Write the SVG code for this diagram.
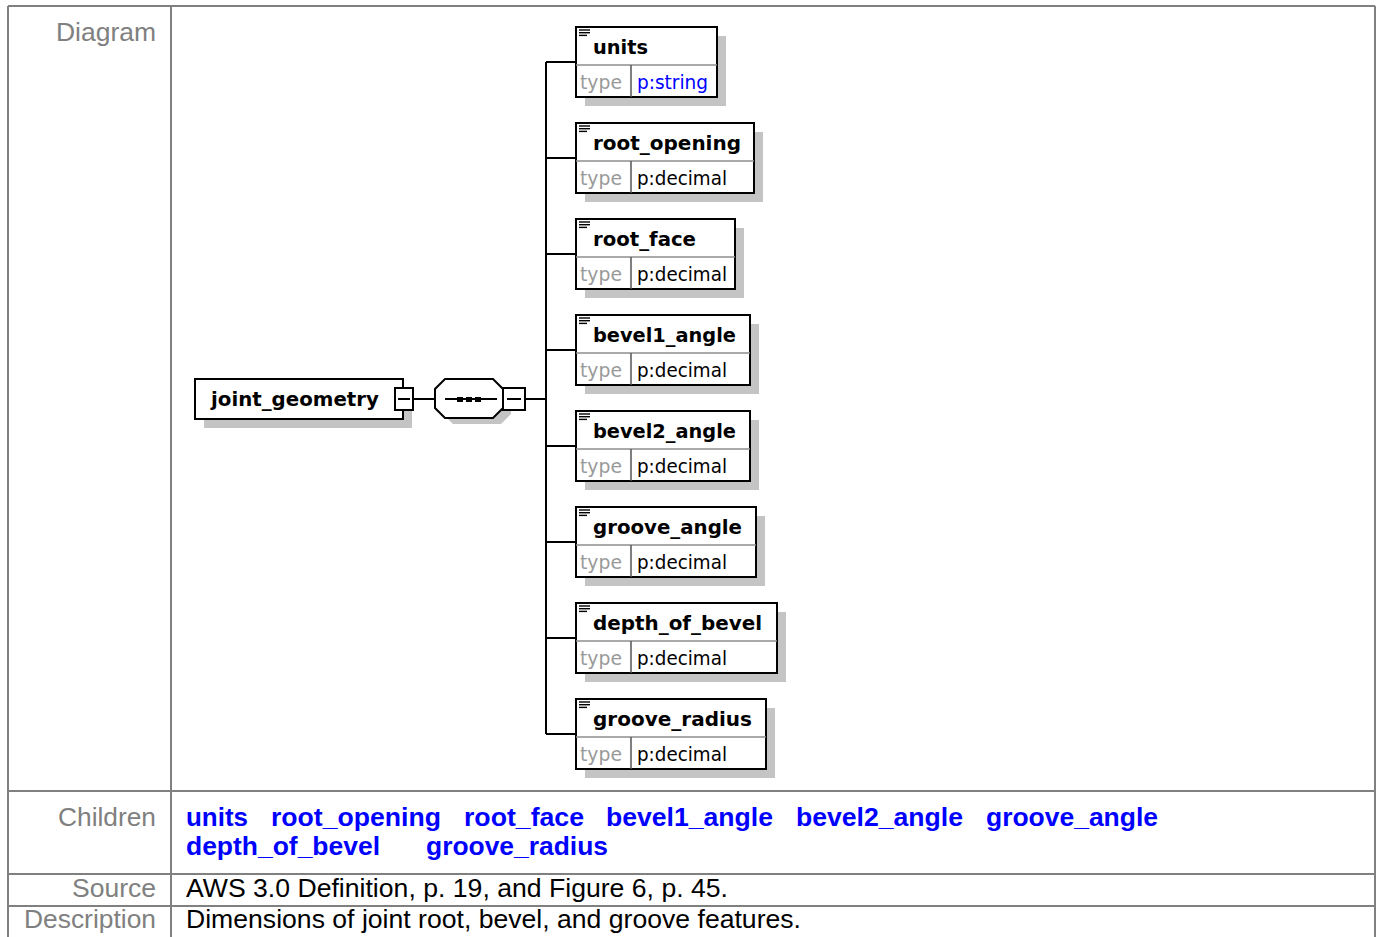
<svg xmlns="http://www.w3.org/2000/svg" width="1379" height="937" viewBox="0 0 1379 937">
<style>
.grid{stroke:#808080;stroke-width:2;fill:none}
.lbl{font-family:"Liberation Sans",Arial,sans-serif;font-size:26px;fill:#808080;text-anchor:end}
.val{font-family:"Liberation Sans",Arial,sans-serif;font-size:26px;fill:#000}
.kid{font-family:"Liberation Sans",Arial,sans-serif;font-size:26px;font-weight:bold;fill:#0000ff}
.shadow{fill:#c4c4c4;stroke:none}
.box{fill:#fff;stroke:#000;stroke-width:2}
.div{stroke:#8c8c8c;stroke-width:1.5}
.vdiv{stroke:#555;stroke-width:1.5}
.name{font-family:"DejaVu Sans",Verdana,sans-serif;font-size:20px;font-weight:bold;fill:#000}
.tl{font-family:"DejaVu Sans",Verdana,sans-serif;font-size:19px;fill:#9a9a9a}
.tv{font-family:"DejaVu Sans",Verdana,sans-serif;font-size:19px;fill:#000}
.tvl{font-family:"DejaVu Sans",Verdana,sans-serif;font-size:19px;fill:#0000ff}
.conn{stroke:#000;stroke-width:2;fill:none}
.icon{stroke:#000;stroke-width:1.4}
</style>
<defs>
<g id="ico"><line class="icon" x1="579" y1="30" x2="590" y2="30"/><line class="icon" x1="579" y1="32.7" x2="590" y2="32.7"/><line class="icon" x1="579" y1="35.4" x2="587" y2="35.4"/></g>
</defs>
<rect width="1379" height="937" fill="#fff"/>
<g id="table">
<line class="grid" x1="8" y1="6" x2="1375" y2="6"/>
<line class="grid" x1="8" y1="6" x2="8" y2="937"/>
<line class="grid" x1="1375" y1="6" x2="1375" y2="937"/>
<line class="grid" x1="171" y1="6" x2="171" y2="937"/>
<line class="grid" x1="8" y1="791" x2="1375" y2="791"/>
<line class="grid" x1="8" y1="874" x2="1375" y2="874"/>
<line class="grid" x1="8" y1="906" x2="1375" y2="906"/>
<text class="lbl" x="156" y="41" textLength="100" lengthAdjust="spacingAndGlyphs">Diagram</text>
<text class="lbl" x="156" y="826" textLength="98" lengthAdjust="spacingAndGlyphs">Children</text>
<text class="lbl" x="156" y="897" textLength="84" lengthAdjust="spacingAndGlyphs">Source</text>
<text class="lbl" x="156" y="928" textLength="132" lengthAdjust="spacingAndGlyphs">Description</text>
<text class="kid" x="186" y="826" textLength="62" lengthAdjust="spacingAndGlyphs">units</text>
<text class="kid" x="271" y="826" textLength="170" lengthAdjust="spacingAndGlyphs">root_opening</text>
<text class="kid" x="464" y="826" textLength="120" lengthAdjust="spacingAndGlyphs">root_face</text>
<text class="kid" x="606" y="826" textLength="167" lengthAdjust="spacingAndGlyphs">bevel1_angle</text>
<text class="kid" x="796" y="826" textLength="167" lengthAdjust="spacingAndGlyphs">bevel2_angle</text>
<text class="kid" x="986" y="826" textLength="172" lengthAdjust="spacingAndGlyphs">groove_angle</text>
<text class="kid" x="186" y="855" textLength="194" lengthAdjust="spacingAndGlyphs">depth_of_bevel</text>
<text class="kid" x="426" y="855" textLength="182" lengthAdjust="spacingAndGlyphs">groove_radius</text>
<text class="val" x="186" y="897" textLength="542" lengthAdjust="spacingAndGlyphs">AWS 3.0 Definition, p. 19, and Figure 6, p. 45.</text>
<text class="val" x="186" y="928" textLength="615" lengthAdjust="spacingAndGlyphs">Dimensions of joint root, bevel, and groove features.</text>
</g>
<g id="connectors">
<line class="conn" x1="413" y1="399" x2="435" y2="399"/>
<line class="conn" x1="525" y1="399" x2="546" y2="399"/>
<line class="conn" x1="546" y1="62" x2="546" y2="734"/>
<line class="conn" x1="546" y1="62" x2="576" y2="62"/>
<line class="conn" x1="546" y1="158" x2="576" y2="158"/>
<line class="conn" x1="546" y1="254" x2="576" y2="254"/>
<line class="conn" x1="546" y1="350" x2="576" y2="350"/>
<line class="conn" x1="546" y1="446" x2="576" y2="446"/>
<line class="conn" x1="546" y1="542" x2="576" y2="542"/>
<line class="conn" x1="546" y1="638" x2="576" y2="638"/>
<line class="conn" x1="546" y1="734" x2="576" y2="734"/>
</g>
<g id="joint_geometry">
<rect class="shadow" x="204" y="388" width="208" height="40"/>
<rect class="box" x="195" y="379" width="208" height="40"/>
<text class="name" x="211" y="406" textLength="168" lengthAdjust="spacingAndGlyphs">joint_geometry</text>
<rect class="box" x="395" y="388" width="18" height="22"/>
<line class="conn" x1="398" y1="399" x2="410" y2="399" stroke-width="1.5"/>
</g>
<g id="sequence">
<polygon class="shadow" points="453,386 501,386 511,396 511,414 501,424 453,424 443,414 443,396"/>
<polygon class="box" points="445,379 493,379 503,389 503,408 493,418 445,418 435,408 435,389"/>
<line class="conn" x1="445" y1="399" x2="497" y2="399" stroke-width="1.5"/>
<rect x="457" y="397" width="6" height="5" fill="#000"/>
<rect x="466" y="397" width="6" height="5" fill="#000"/>
<rect x="475" y="397" width="6" height="5" fill="#000"/>
<rect class="box" x="503" y="388" width="22" height="22"/>
<line class="conn" x1="507" y1="399" x2="521" y2="399" stroke-width="1.5"/>
</g>
<g id="units">
<rect class="shadow" x="585" y="36" width="141" height="70"/>
<rect class="box" x="576" y="27" width="141" height="70"/>
<line class="div" x1="576" y1="65" x2="717" y2="65"/>
<line class="vdiv" x1="631" y1="65" x2="631" y2="97"/>
<use href="#ico"/>
<text class="name" x="593" y="54" textLength="55" lengthAdjust="spacingAndGlyphs">units</text>
<text class="tl" x="580" y="89" textLength="42" lengthAdjust="spacingAndGlyphs">type</text>
<text class="tvl" x="637" y="89" textLength="71" lengthAdjust="spacingAndGlyphs">p:string</text>
</g>
<g id="root_opening" transform="translate(0,96)">
<rect class="shadow" x="585" y="36" width="178" height="70"/>
<rect class="box" x="576" y="27" width="178" height="70"/>
<line class="div" x1="576" y1="65" x2="754" y2="65"/>
<line class="vdiv" x1="631" y1="65" x2="631" y2="97"/>
<use href="#ico"/>
<text class="name" x="593" y="54" textLength="148" lengthAdjust="spacingAndGlyphs">root_opening</text>
<text class="tl" x="580" y="89" textLength="42" lengthAdjust="spacingAndGlyphs">type</text>
<text class="tv" x="637" y="89" textLength="90" lengthAdjust="spacingAndGlyphs">p:decimal</text>
</g>
<g id="root_face" transform="translate(0,192)">
<rect class="shadow" x="585" y="36" width="159" height="70"/>
<rect class="box" x="576" y="27" width="159" height="70"/>
<line class="div" x1="576" y1="65" x2="735" y2="65"/>
<line class="vdiv" x1="631" y1="65" x2="631" y2="97"/>
<use href="#ico"/>
<text class="name" x="593" y="54" textLength="103" lengthAdjust="spacingAndGlyphs">root_face</text>
<text class="tl" x="580" y="89" textLength="42" lengthAdjust="spacingAndGlyphs">type</text>
<text class="tv" x="637" y="89" textLength="90" lengthAdjust="spacingAndGlyphs">p:decimal</text>
</g>
<g id="bevel1_angle" transform="translate(0,288)">
<rect class="shadow" x="585" y="36" width="174" height="70"/>
<rect class="box" x="576" y="27" width="174" height="70"/>
<line class="div" x1="576" y1="65" x2="750" y2="65"/>
<line class="vdiv" x1="631" y1="65" x2="631" y2="97"/>
<use href="#ico"/>
<text class="name" x="593" y="54" textLength="143" lengthAdjust="spacingAndGlyphs">bevel1_angle</text>
<text class="tl" x="580" y="89" textLength="42" lengthAdjust="spacingAndGlyphs">type</text>
<text class="tv" x="637" y="89" textLength="90" lengthAdjust="spacingAndGlyphs">p:decimal</text>
</g>
<g id="bevel2_angle" transform="translate(0,384)">
<rect class="shadow" x="585" y="36" width="174" height="70"/>
<rect class="box" x="576" y="27" width="174" height="70"/>
<line class="div" x1="576" y1="65" x2="750" y2="65"/>
<line class="vdiv" x1="631" y1="65" x2="631" y2="97"/>
<use href="#ico"/>
<text class="name" x="593" y="54" textLength="143" lengthAdjust="spacingAndGlyphs">bevel2_angle</text>
<text class="tl" x="580" y="89" textLength="42" lengthAdjust="spacingAndGlyphs">type</text>
<text class="tv" x="637" y="89" textLength="90" lengthAdjust="spacingAndGlyphs">p:decimal</text>
</g>
<g id="groove_angle" transform="translate(0,480)">
<rect class="shadow" x="585" y="36" width="180" height="70"/>
<rect class="box" x="576" y="27" width="180" height="70"/>
<line class="div" x1="576" y1="65" x2="756" y2="65"/>
<line class="vdiv" x1="631" y1="65" x2="631" y2="97"/>
<use href="#ico"/>
<text class="name" x="593" y="54" textLength="149" lengthAdjust="spacingAndGlyphs">groove_angle</text>
<text class="tl" x="580" y="89" textLength="42" lengthAdjust="spacingAndGlyphs">type</text>
<text class="tv" x="637" y="89" textLength="90" lengthAdjust="spacingAndGlyphs">p:decimal</text>
</g>
<g id="depth_of_bevel" transform="translate(0,576)">
<rect class="shadow" x="585" y="36" width="201" height="70"/>
<rect class="box" x="576" y="27" width="201" height="70"/>
<line class="div" x1="576" y1="65" x2="777" y2="65"/>
<line class="vdiv" x1="631" y1="65" x2="631" y2="97"/>
<use href="#ico"/>
<text class="name" x="593" y="54" textLength="169" lengthAdjust="spacingAndGlyphs">depth_of_bevel</text>
<text class="tl" x="580" y="89" textLength="42" lengthAdjust="spacingAndGlyphs">type</text>
<text class="tv" x="637" y="89" textLength="90" lengthAdjust="spacingAndGlyphs">p:decimal</text>
</g>
<g id="groove_radius" transform="translate(0,672)">
<rect class="shadow" x="585" y="36" width="190" height="70"/>
<rect class="box" x="576" y="27" width="190" height="70"/>
<line class="div" x1="576" y1="65" x2="766" y2="65"/>
<line class="vdiv" x1="631" y1="65" x2="631" y2="97"/>
<use href="#ico"/>
<text class="name" x="593" y="54" textLength="159" lengthAdjust="spacingAndGlyphs">groove_radius</text>
<text class="tl" x="580" y="89" textLength="42" lengthAdjust="spacingAndGlyphs">type</text>
<text class="tv" x="637" y="89" textLength="90" lengthAdjust="spacingAndGlyphs">p:decimal</text>
</g>
</svg>
